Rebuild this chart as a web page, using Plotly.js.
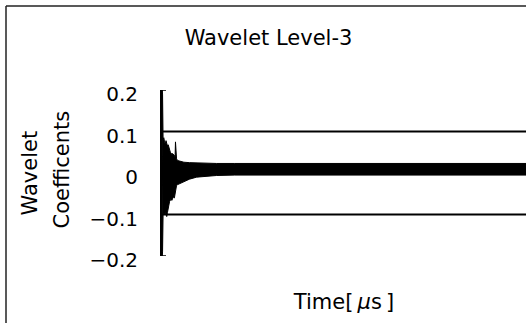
<!DOCTYPE html>
<html>
<head>
<meta charset="utf-8">
<script src="https://cdn.plot.ly/plotly-3.0.1.min.js"></script>
<style>html,body{margin:0;padding:0;background:#fff;}#chart{width:526px;height:323px;}</style>
</head>
<body>
<div id="chart"></div>
<script>
// Time samples (μs) where the signal envelope was read
const timeUs = [0, 0.5, 1.5, 3, 5, 7, 9, 11, 13, 15, 17, 19, 21, 23, 25, 27, 29, 31, 34, 36, 37, 38, 40, 43, 50, 60, 75, 95, 120, 150, 200, 300, 450, 600, 800, 1000];
// Upper envelope of the wavelet coefficients
const upperEnv = [0.0, 0.2, 0.19, 0.08, 0.085, 0.075, 0.07, 0.078, 0.072, 0.065, 0.068, 0.06, 0.055, 0.05, 0.048, 0.045, 0.047, 0.045, 0.042, 0.04, 0.075, 0.04, 0.034, 0.03, 0.028, 0.026, 0.025, 0.024, 0.024, 0.023, 0.023, 0.023, 0.023, 0.023, 0.023, 0.023];
// Lower envelope of the wavelet coefficients
const lowerEnv = [0.0, -0.2, -0.19, -0.1, -0.098, -0.1, -0.095, -0.1, -0.105, -0.095, -0.085, -0.075, -0.068, -0.066, -0.062, -0.066, -0.062, -0.058, -0.06, -0.045, -0.038, -0.034, -0.03, -0.028, -0.025, -0.02, -0.015, -0.01, -0.008, -0.006, -0.005, -0.005, -0.005, -0.005, -0.005, -0.005];
// Threshold levels
const thresholds = [0.1, -0.1];
// Y tick values and labels
const yTickVals = [0.2, 0.1, 0, -0.1, -0.2];
const yTickText = ['0.2', '0.1', '0', '\u22120.1', '\u22120.2'];
const xRange = [0, 1000];
const yRange = [-0.2, 0.2];

const W = 526, H = 323;
const mL = 162, mR = 0, mT = 90, mB = 67;
const pw = W - mL - mR, ph = H - mT - mB;
const px = v => (v - mL) / pw;          // pixel x -> paper x
const py = v => (H - mB - v) / ph;      // pixel y -> paper y

const FONT = 'DejaVu Sans, Arial, sans-serif';

const traces = [
  {x: timeUs, y: lowerEnv, type: 'scatter', mode: 'lines', line: {color: '#000', width: 1}, hoverinfo: 'skip', showlegend: false},
  {x: timeUs, y: upperEnv, type: 'scatter', mode: 'lines', fill: 'tonexty', fillcolor: '#000', line: {color: '#000', width: 1}, hoverinfo: 'skip', showlegend: false}
];

const shapes = [];
thresholds.forEach(th => shapes.push({type: 'line', xref: 'paper', yref: 'y', x0: 0, x1: 1, y0: th, y1: th, line: {color: '#000', width: 2}}));
// end caps of the y axis bracket
[yRange[0], yRange[1]].forEach(v => shapes.push({type: 'line', xref: 'paper', yref: 'y', x0: 0, x1: 4 / pw, y0: v, y1: v, line: {color: '#000', width: 1.5}}));
// outer frame (left and top edges visible)
shapes.push({type: 'line', xref: 'paper', yref: 'paper', x0: px(6), x1: px(6), y0: py(H + 2), y1: py(6), line: {color: '#222', width: 1.5}});
shapes.push({type: 'line', xref: 'paper', yref: 'paper', x0: px(6), x1: px(W + 2), y0: py(6), y1: py(6), line: {color: '#222', width: 1.5}});

const layout = {
  width: W, height: H,
  margin: {l: mL, r: mR, t: mT, b: mB, pad: 0},
  paper_bgcolor: '#fff', plot_bgcolor: '#fff',
  showlegend: false,
  font: {family: FONT, color: '#000', size: 20},
  title: {text: 'Wavelet Level-3', font: {family: FONT, size: 21, color: '#000'}, xref: 'container', yref: 'container', x: 268.5 / W, xanchor: 'center', y: 1 - 38 / H, yanchor: 'middle'},
  xaxis: {range: xRange, showgrid: false, zeroline: false, showline: false, showticklabels: false, ticks: '', fixedrange: true,
    title: {text: 'Time[\u2009<i>\u03bc</i>s\u2009]', font: {family: FONT, size: 21, color: '#000'}, standoff: 38}},
  yaxis: {range: yRange, showgrid: false, zeroline: false, showline: true, linecolor: '#000', linewidth: 2, ticks: '',
    tickvals: yTickVals, ticktext: yTickText, tickfont: {family: FONT, size: 20, color: '#000'}, ticklabelstandoff: 18, ticklabelshift: 4, fixedrange: true},
  shapes: shapes,
  annotations: [
    {text: 'Wavelet', xref: 'paper', yref: 'paper', x: px(29.5), y: py(173), xanchor: 'center', yanchor: 'middle', textangle: -90, showarrow: false, font: {family: FONT, size: 21, color: '#000'}},
    {text: 'Coefficents', xref: 'paper', yref: 'paper', x: px(61.5), y: py(170), xanchor: 'center', yanchor: 'middle', textangle: -90, showarrow: false, font: {family: FONT, size: 21, color: '#000'}}
  ]
};

Plotly.newPlot('chart', traces, layout, {displayModeBar: false, staticPlot: true});
</script>
</body>
</html>
